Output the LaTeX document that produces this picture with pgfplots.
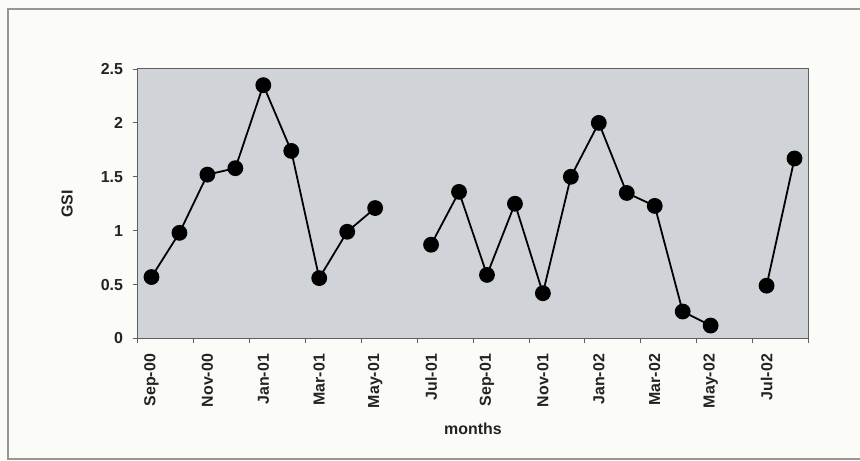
\documentclass[border=0pt]{standalone}
\usepackage{pgfplots}
\pgfplotsset{compat=1.18}
\usepackage{fontspec}
\setmainfont{Liberation Sans}

\definecolor{plotbg}{RGB}{208,212,217}
\definecolor{paper}{RGB}{251,251,248}
\definecolor{framegray}{RGB}{150,150,150}
\definecolor{axisgray}{RGB}{95,95,95}
\definecolor{txt}{RGB}{35,35,35}

\begin{document}
\begin{tikzpicture}[x=1bp,y=1bp]
  \useasboundingbox (0,0) rectangle (860,461);
  \fill[paper] (0,0) rectangle (860,461);
  \draw[framegray, line width=1.2bp] (8,2) rectangle (870,452);

  \begin{axis}[
    at={(137.5bp,122.5bp)}, anchor=south west,
    scale only axis,
    width=671bp, height=269.5bp,
    xmin=-0.5, xmax=23.5,
    ymin=0, ymax=2.5,
    axis background/.style={fill=plotbg},
    axis line style={axisgray, line width=1bp},
    tick align=outside,
    tick pos=left,
    xtick={0,2,...,22},
    xticklabels={Sep-00,Nov-00,Jan-01,Mar-01,May-01,Jul-01,Sep-01,Nov-01,Jan-02,Mar-02,May-02,Jul-02},
    minor xtick={-0.5,1.5,...,23.5},
    major x tick style={draw=none},
    minor tick length=5bp,
    minor x tick style={axisgray, line width=0.8bp},
    ytick={0,0.5,1,1.5,2,2.5},
    major tick length=5bp,
    y tick style={axisgray, line width=0.8bp},
    /pgf/number format/assume math mode=true,
    ticklabel style={font=\fontsize{16}{16}\bfseries, text=txt},
    xticklabel style={rotate=90, anchor=east, xshift=-7bp},
    yticklabel style={anchor=east, xshift=-6bp},
    xlabel={months}, ylabel={GSI},
    label style={font=\fontsize{16}{16}\bfseries, text=txt},
    xlabel style={at={(axis description cs:0.5,-0.336)}, anchor=center},
    ylabel style={at={(axis description cs:-0.105,0.5)}, anchor=center, rotate=0},
    unbounded coords=jump,
    clip=false,
  ]
  \addplot[black, line width=1.8bp, mark=*, mark size=7bp,
           mark options={fill=black}]
  table {
    x   y
    0   0.57
    1   0.98
    2   1.52
    3   1.58
    4   2.35
    5   1.74
    6   0.56
    7   0.99
    8   1.21
    9   nan
    10  0.87
    11  1.36
    12  0.59
    13  1.25
    14  0.42
    15  1.50
    16  2.00
    17  1.35
    18  1.23
    19  0.25
    20  0.12
    21  nan
    22  0.49
    23  1.67
  };
  \end{axis}
\end{tikzpicture}
\end{document}
